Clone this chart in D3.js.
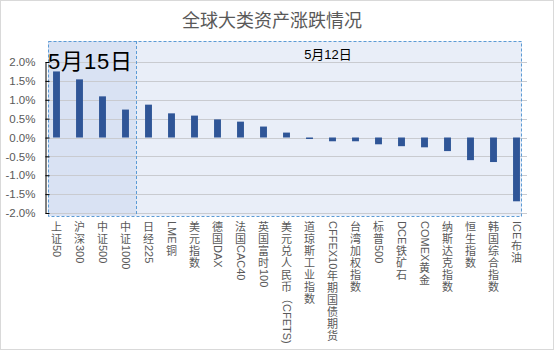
<!DOCTYPE html>
<html>
<head>
<meta charset="utf-8">
<script src="https://cdn.jsdelivr.net/npm/d3@7"></script>
<style>
  body { margin: 0; background: #fff; }
  text { font-family: "Liberation Sans", "Noto Sans CJK SC", sans-serif; }
</style>
</head>
<body>
<div id="chart"></div>
<script>
// categories and daily change (%)
var categories = ["上证50", "沪深300", "中证500", "中证1000", "日经225", "LME铜", "美元指数",
  "德国DAX", "法国CAC40", "英国富时100", "美元兑人民币（CFETS)", "道琼斯工业指数",
  "CFFEX10年期国债期货", "台湾加权指数", "标普500", "DCE铁矿石", "COMEX黄金",
  "纳斯达克指数", "恒生指数", "韩国综合指数", "ICE布油"];
var changes = [1.75, 1.54, 1.09, 0.74, 0.87, 0.64, 0.58, 0.48, 0.42, 0.29, 0.13,
  -0.04, -0.10, -0.10, -0.18, -0.23, -0.26, -0.36, -0.60, -0.65, -1.69];
var yTicks = [2, 1.5, 1, 0.5, 0, -0.5, -1, -1.5, -2];
var title = "全球大类资产涨跌情况";
var dateLeft = "5月15日", dateRight = "5月12日";

var width = 556, height = 352;
var margin = {top: 62, left: 45, right: 28, bottom: 139};

var svg = d3.select("#chart").append("svg")
    .attr("width", width)
    .attr("height", height);

// chart border
svg.append("rect")
    .attr("x", 0.5).attr("y", 0.5)
    .attr("width", 553).attr("height", 349)
    .attr("fill", "#fff")
    .attr("stroke", "#d9d9d9");

var x = d3.scaleBand()
    .domain(categories)
    .range([margin.left, width - margin.right])
    .paddingInner(0.7)
    .paddingOuter(0.35);

var y = d3.scaleLinear()
    .domain([-2, 2])
    .range([height - margin.bottom, margin.top]);

// highlight boxes
var boxTop = 41, boxBottom = 216;
var splitX = Math.round(x(categories[4]) - x.step() * 0.35) - 0.5;
svg.append("rect")
    .attr("x", 48).attr("y", boxTop)
    .attr("width", 474).attr("height", boxBottom - boxTop)
    .attr("fill", "#e9eef8");
svg.append("rect")
    .attr("x", 48).attr("y", boxTop)
    .attr("width", splitX - 48).attr("height", boxBottom - boxTop)
    .attr("fill", "#d9e2f3");

// gridlines
svg.append("g")
  .selectAll("line")
  .data(yTicks)
  .enter().append("line")
    .attr("x1", margin.left).attr("x2", width - margin.right - 1)
    .attr("y1", function(d) { return Math.round(y(d)) + 0.5; })
    .attr("y2", function(d) { return Math.round(y(d)) + 0.5; })
    .attr("stroke", "#c9cbd0")
    .attr("stroke-width", 1);

// dashed outlines
svg.append("rect")
    .attr("x", 48.5).attr("y", boxTop + 0.5)
    .attr("width", 473).attr("height", boxBottom - boxTop)
    .attr("fill", "none")
    .attr("stroke", "#5b9bd5")
    .attr("stroke-dasharray", "3,2");
svg.append("line")
    .attr("x1", splitX).attr("x2", splitX)
    .attr("y1", boxTop).attr("y2", boxBottom)
    .attr("stroke", "#5b9bd5")
    .attr("stroke-dasharray", "3,2");

// bars
svg.append("g")
  .selectAll("rect")
  .data(categories)
  .enter().append("rect")
    .attr("x", function(d) { return x(d); })
    .attr("width", x.bandwidth())
    .attr("y", function(d, i) { return y(Math.max(0, changes[i])); })
    .attr("height", function(d, i) { return Math.abs(y(changes[i]) - y(0)); })
    .attr("fill", "#2f5597");

// y axis
var yAxis = d3.axisLeft(y)
    .tickValues(yTicks)
    .tickSizeInner(-4)
    .tickSizeOuter(0)
    .tickPadding(10)
    .tickFormat(function(d) { return d.toFixed(1) + "%"; });

var gy = svg.append("g")
    .attr("transform", "translate(" + (margin.left + 0.5) + ",0)")
    .call(yAxis);
gy.select(".domain").attr("stroke", "#000");
gy.selectAll(".tick line").attr("stroke", "#000");
gy.selectAll(".tick text")
    .attr("fill", "#595959")
    .style("font-size", "11.5px");

// category labels: cjk chars stacked upright, latin runs turned 90deg
var cjk = /[\u3400-\u9fff]/;
var labels = svg.append("g")
    .attr("fill", "#595959")
    .style("font-size", "11px");

categories.forEach(function(name) {
  var cx = x(name) + x.bandwidth() / 2;
  var cursor = 221;
  var parts = name.match(/[\u3400-\u9fff]|[^\u3400-\u9fff]+/g);
  var g = labels.append("g");
  parts.forEach(function(p) {
    if (cjk.test(p)) {
      g.append("text")
          .attr("x", cx).attr("y", cursor + 10)
          .attr("text-anchor", "middle")
          .text(p);
      cursor += 12;
    } else {
      var t = g.append("text")
          .attr("transform", "translate(" + (cx) + "," + cursor + ") rotate(90)")
          .attr("dy", "0.35em")
          .text(p);
      cursor += t.node().getComputedTextLength() + 1;
    }
  });
});

// title
svg.append("text")
    .attr("x", 272).attr("y", 27)
    .attr("text-anchor", "middle")
    .attr("fill", "#595959")
    .style("font-size", "18px")
    .text(title);

// date labels
svg.append("text")
    .attr("x", 48).attr("y", 69)
    .attr("fill", "#000")
    .attr("textLength", 84)
    .attr("lengthAdjust", "spacing")
    .style("font-size", "22px")
    .text(dateLeft);
svg.append("text")
    .attr("x", 328).attr("y", 59)
    .attr("text-anchor", "middle")
    .attr("fill", "#000")
    .style("font-size", "13px")
    .text(dateRight);
</script>
</body>
</html>
